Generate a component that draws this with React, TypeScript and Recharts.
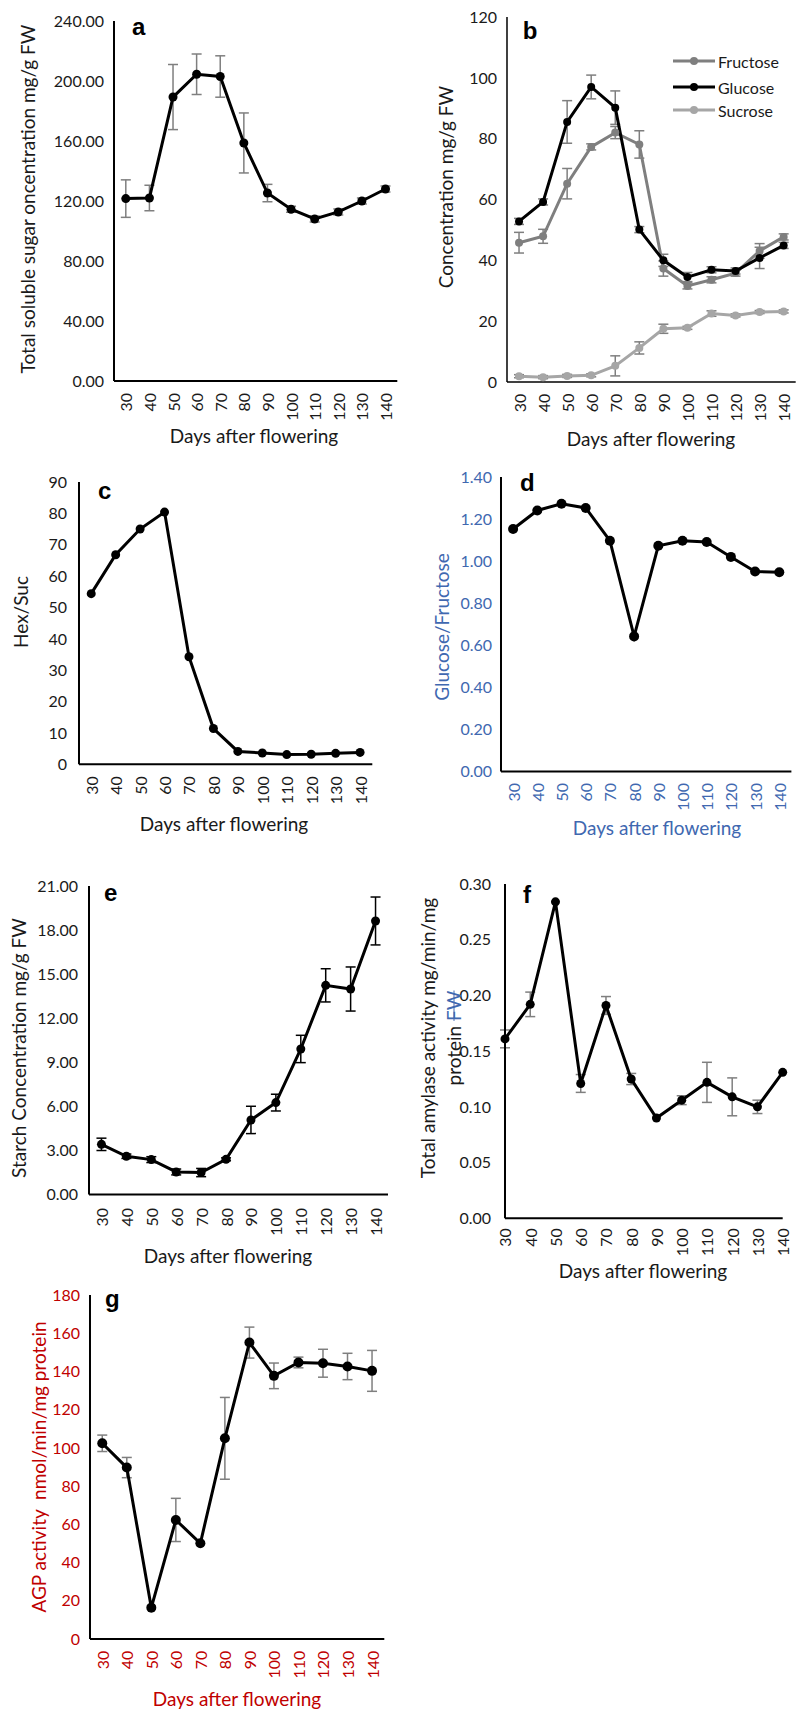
import React from 'react';
import { LineChart, Line, XAxis, YAxis, ErrorBar } from 'recharts';

const FONT = "Lato, 'Open Sans', sans-serif";
const INK = '#1a1a1a';
const BLUE = '#4068b0';
const RED = '#c00000';

const days = [30, 40, 50, 60, 70, 80, 90, 100, 110, 120, 130, 140];

// a: total soluble sugar
const totalSugar = [121.6, 122, 189.3, 204.5, 203, 158.7, 125.3, 114.5, 108, 112.7, 120, 128];
const totalSugarErr = [12.5, 8.5, 21.7, 13.5, 13.8, 20, 5.8, 2, 2, 2, 2, 2];
const ticksA = [0, 40, 80, 120, 160, 200, 240];

// b: fructose / glucose / sucrose
const fructose = [45.8, 47.9, 65.2, 77.3, 82, 78.1, 37.3, 31.6, 33.6, 35.8, 43.1, 47.7];
const fructoseErr = [3.4, 2.3, 5, 1, 2, 4.5, 2.5, 1, 1, 1, 2.4, 1];
const glucose = [52.8, 59.2, 85.5, 97, 90.2, 50.1, 40, 34.5, 36.9, 36.5, 40.8, 44.9];
const glucoseErr = [1, 1, 7, 3.9, 5.5, 1, 2, 1.5, 1, 1, 3.5, 1];
const sucrose = [1.9, 1.6, 2, 2.2, 5.3, 11.2, 17.5, 17.8, 22.5, 21.9, 23, 23.2];
const sucroseErr = [0.5, 0.5, 0.5, 0.5, 3.3, 2, 1.5, 0.5, 0.9, 0.5, 0.5, 0.5];
const ticksB = [0, 20, 40, 60, 80, 100, 120];

// c: hexose / sucrose
const hexSuc = [54.4, 66.8, 75, 80.4, 34.3, 11.4, 4.1, 3.6, 3.1, 3.2, 3.5, 3.8];
const ticksC = [0, 10, 20, 30, 40, 50, 60, 70, 80, 90];

// d: glucose / fructose
const glcFru = [1.153, 1.241, 1.273, 1.253, 1.097, 0.642, 1.073, 1.097, 1.091, 1.02, 0.951, 0.947];
const ticksD = [0, 0.2, 0.4, 0.6, 0.8, 1.0, 1.2, 1.4];

// e: starch
const starch = [3.42, 2.61, 2.38, 1.54, 1.5, 2.4, 5.08, 6.26, 9.91, 14.24, 13.99, 18.62];
const starchErr = [0.42, 0.15, 0.2, 0.2, 0.28, 0.1, 0.93, 0.57, 0.93, 1.13, 1.5, 1.63];
const ticksE = [0, 3, 6, 9, 12, 15, 18, 21];

// f: amylase
const amylase = [0.161, 0.192, 0.284, 0.121, 0.191, 0.125, 0.09, 0.106, 0.122, 0.109, 0.1, 0.131];
const amylaseErr = [0.008, 0.011, 0, 0.008, 0.008, 0.005, 0, 0.004, 0.018, 0.017, 0.006, 0];
const ticksF = [0, 0.05, 0.1, 0.15, 0.2, 0.25, 0.3];

// g: AGP
const agp = [102.4, 89.7, 16.4, 62.3, 50.1, 105, 155.1, 137.7, 144.7, 144.3, 142.6, 140.3];
const agpErr = [4.3, 5.3, 0, 11.3, 0, 21.4, 8.1, 6.7, 2.8, 7.3, 6.9, 10.7];
const ticksG = [0, 20, 40, 60, 80, 100, 120, 140, 160, 180];

type Series = { key: string; color: string; values: number[]; errs?: number[] };

interface PanelProps {
  box: [number, number, number, number];
  series: Series[];
  ticks: number[];
  digits: number;
  tickColor?: string;
  yGap: number;
  xGap: number;
  edge?: boolean;
  errColor?: string;
  r?: number;
  axisWidth?: number;
}

const L = 70, T = 12, R = 12, B = 60;

function XTick(props: any) {
  const { x, y, payload, fill, gap } = props;
  const yy = y + gap;
  return (
    <text x={x} y={yy} transform={`rotate(-90, ${x}, ${yy})`} textAnchor="end"
      dominantBaseline="central" fill={fill} fontSize={16} fontFamily={FONT}>
      {payload.value}
    </text>
  );
}

function Panel({ box, series, ticks, digits, tickColor = INK, yGap, xGap, edge, errColor = '#7f7f7f', r = 4.5, axisWidth = 2 }: PanelProps) {
  const [x0, y0, x1, y1] = box;
  const w = x1 - x0, h = y1 - y0;
  const band = w / days.length;
  const pad = edge ? 0 : band / 2;
  const rows = days.map((d, i) => {
    const row: Record<string, number | string> = { day: String(d) };
    series.forEach((s) => {
      row[s.key] = s.values[i];
      if (s.errs) row[s.key + 'Err'] = s.errs[i];
    });
    return row;
  });
  return (
    <div style={{ position: 'absolute', left: x0 - L, top: y0 - T }}>
      <LineChart width={w + L + R} height={h + T + B} data={rows}
        margin={{ top: T, right: R, bottom: 0, left: 0 }}>
        <XAxis dataKey="day" type="category" scale="point" interval={0} height={B}
          padding={{ left: pad, right: pad }} tickSize={0} tickMargin={0}
          axisLine={{ stroke: '#000', strokeWidth: axisWidth }}
          tick={<XTick fill={tickColor} gap={xGap} />} />
        <YAxis type="number" domain={[ticks[0], ticks[ticks.length - 1]]} ticks={ticks}
          allowDataOverflow interval={0} width={L} tickSize={0} tickMargin={yGap}
          axisLine={{ stroke: '#000', strokeWidth: axisWidth }}
          tickFormatter={(v: number) => v.toFixed(digits)}
          tick={{ fill: tickColor, fontSize: 16, fontFamily: FONT }} />
        {series.map((s) => (
          <Line key={s.key} dataKey={s.key} stroke={s.color} strokeWidth={3}
            dot={{ r, fill: s.color, stroke: s.color, strokeWidth: 0 }}
            activeDot={false} isAnimationActive={false}>
            {s.errs && (
              <ErrorBar dataKey={s.key + 'Err'} width={5} stroke={errColor}
                strokeWidth={1.5} direction="y" />
            )}
          </Line>
        ))}
      </LineChart>
    </div>
  );
}

function Txt({ x, y, children, rot, size = 19, color = INK }: any) {
  return (
    <div style={{
      position: 'absolute', left: x, top: y, whiteSpace: 'nowrap', lineHeight: 1,
      fontSize: size, fontFamily: FONT, color,
      transform: `translate(-50%, -50%)${rot ? ' rotate(-90deg)' : ''}`,
    }}>{children}</div>
  );
}

function Letter({ x, y, children }: any) {
  return (
    <div style={{
      position: 'absolute', left: x, top: y, fontSize: 24, lineHeight: 1,
      fontWeight: 700, fontFamily: "'Liberation Sans', Arial, sans-serif", color: '#000',
    }}>{children}</div>
  );
}

const legendItems = [
  { name: 'Fructose', color: '#7f7f7f', y: 61 },
  { name: 'Glucose', color: '#000', y: 87 },
  { name: 'Sucrose', color: '#a6a6a6', y: 110 },
];

export default function App() {
  return (
    <div style={{ position: 'absolute', left: 0, top: 0, width: 802, height: 1709, background: '#fff', overflow: 'hidden' }}>
      {/* a */}
      <Panel box={[113.7, 20.7, 397, 380.7]} ticks={ticksA} digits={2} yGap={10} xGap={12}
        series={[{ key: 'total', color: '#000', values: totalSugar, errs: totalSugarErr }]} />
      <Letter x={132} y={14.7}>a</Letter>
      <Txt x={27} y={199} rot>Total soluble sugar oncentration mg/g FW</Txt>
      <Txt x={254} y={435}>Days after flowering</Txt>

      {/* b */}
      <Panel box={[507, 16.7, 795.7, 381.7]} ticks={ticksB} digits={0} yGap={10} xGap={11.6} r={4} axisWidth={1.5}
        series={[
          { key: 'fru', color: '#7f7f7f', values: fructose, errs: fructoseErr },
          { key: 'glc', color: '#000', values: glucose, errs: glucoseErr },
          { key: 'suc', color: '#a6a6a6', values: sucrose, errs: sucroseErr },
        ]} />
      <Letter x={522.7} y={19}>b</Letter>
      <Txt x={445} y={187} rot>Concentration mg/g FW</Txt>
      <Txt x={651} y={438}>Days after flowering</Txt>
      {legendItems.map((it) => (
        <div key={it.name} style={{ position: 'absolute', left: 673, top: it.y - 10, height: 20, display: 'flex', alignItems: 'center' }}>
          <svg width={43} height={20}>
            <line x1={0} y1={10} x2={42} y2={10} stroke={it.color} strokeWidth={3} />
            <circle cx={21} cy={10} r={4} fill={it.color} />
          </svg>
          <span style={{ fontFamily: FONT, fontSize: 16, color: INK, marginLeft: 2 }}>{it.name}</span>
        </div>
      ))}

      {/* c */}
      <Panel box={[78.7, 482, 372, 764.3]} ticks={ticksC} digits={0} yGap={12} xGap={12}
        series={[{ key: 'hs', color: '#000', values: hexSuc }]} />
      <Letter x={98} y={478.7}>c</Letter>
      <Txt x={20} y={612} rot>Hex/Suc</Txt>
      <Txt x={224} y={822.7}>Days after flowering</Txt>

      {/* d */}
      <Panel box={[501.3, 477.3, 791.7, 771.7]} ticks={ticksD} digits={2} yGap={9} xGap={11.6} r={5}
        tickColor={BLUE}
        series={[{ key: 'gf', color: '#000', values: glcFru }]} />
      <Letter x={520} y={471.4}>d</Letter>
      <Txt x={440.5} y={627} rot color={BLUE}>Glucose/Fructose</Txt>
      <Txt x={657} y={827} color={BLUE}>Days after flowering</Txt>

      {/* e */}
      <Panel box={[88.7, 885.7, 387.7, 1194.3]} ticks={ticksE} digits={2} yGap={11} xGap={13.3} errColor="#000"
        series={[{ key: 'st', color: '#000', values: starch, errs: starchErr }]} />
      <Letter x={104} y={880.7}>e</Letter>
      <Txt x={17.5} y={1047.5} rot>Starch Concentration mg/g FW</Txt>
      <Txt x={228} y={1255}>Days after flowering</Txt>

      {/* f */}
      <Panel box={[505, 884, 782.7, 1218.3]} ticks={ticksF} digits={2} yGap={14} xGap={10} edge
        series={[{ key: 'am', color: '#000', values: amylase, errs: amylaseErr }]} />
      <Letter x={523} y={882.7}>f</Letter>
      <Txt x={427} y={1037.5} rot>Total amylase activity mg/min/mg</Txt>
      <Txt x={452.5} y={1037.7} rot>
        protein <span style={{ color: BLUE, textDecoration: 'line-through' }}>FW</span>
      </Txt>
      <Txt x={643} y={1270}>Days after flowering</Txt>

      {/* g */}
      <Panel box={[89.7, 1295, 384, 1639]} ticks={ticksG} digits={0} yGap={10} xGap={11.7} r={5}
        tickColor={RED}
        series={[{ key: 'agp', color: '#000', values: agp, errs: agpErr }]} />
      <Letter x={105} y={1287}>g</Letter>
      <Txt x={37.5} y={1467} rot color={RED}>AGP activity&nbsp; nmol/min/mg protein</Txt>
      <Txt x={237} y={1698} color={RED}>Days after flowering</Txt>
    </div>
  );
}
